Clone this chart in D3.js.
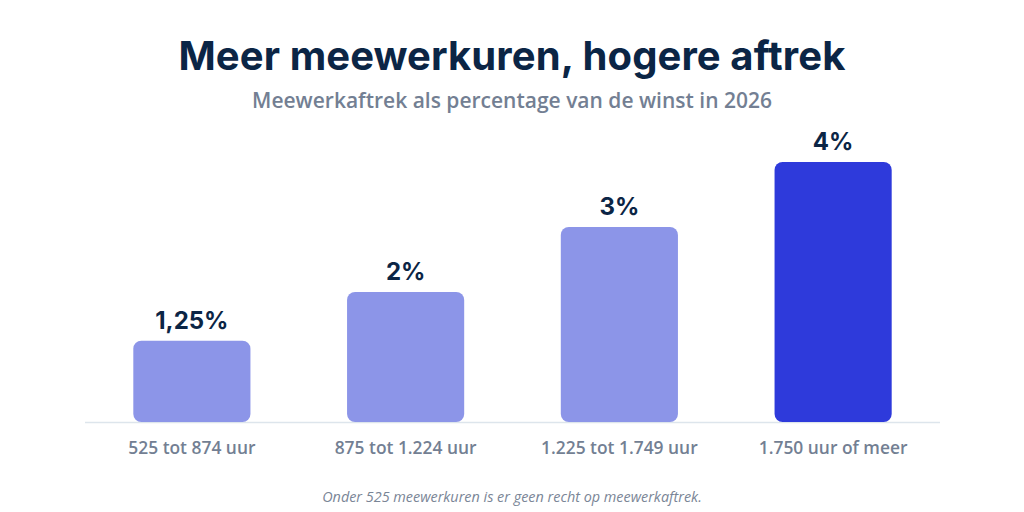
<!DOCTYPE html>
<html><head><meta charset="utf-8">
<script src="https://cdn.jsdelivr.net/npm/d3@7/dist/d3.min.js"></script>
<style>body{margin:0;background:#fff}svg{display:block}</style>
</head><body><svg id="c" width="1024" height="512"></svg>
<script>
const categories = ["525 tot 874 uur","875 tot 1.224 uur","1.225 tot 1.749 uur","1.750 uur of meer"];
const values = [1.25, 2, 3, 4];
const valueLabels = ["1,25%","2%","3%","4%"];
const highlight = [false,false,false,true];
const title = "Meer meewerkuren, hogere aftrek";
const subtitle = "Meewerkaftrek als percentage van de winst in 2026";
const footnote = "Onder 525 meewerkuren is er geen recht op meewerkaftrek.";

const svg = d3.select("#c");
const base = 422;
const x = d3.scaleBand().domain(categories).range([85, 940]).paddingInner(0.452).paddingOuter(0.226);
const y = d3.scaleLinear().domain([0, 4]).range([base, 162]);

svg.append("text").attr("x",512).attr("y",70).attr("text-anchor","middle")
  .attr("font-family","Inter, 'Noto Sans', sans-serif").attr("font-weight",700)
  .attr("font-size",40).attr("fill","#0b2545").attr("letter-spacing","0.1").text(title);
svg.append("text").attr("x",512).attr("y",108).attr("text-anchor","middle")
  .attr("font-family","'Open Sans', sans-serif").attr("font-weight",600)
  .attr("font-size",21).attr("fill","#737f93").text(subtitle);

svg.append("line").attr("x1",85).attr("x2",940).attr("y1",base+0.5).attr("y2",base+0.5)
  .attr("stroke","#dde5ec").attr("stroke-width",1.5);

const g = svg.selectAll("g.bar").data(categories).enter().append("g");
g.append("rect")
  .attr("x",(d)=>x(d)).attr("width",x.bandwidth())
  .attr("y",(d,i)=>y(values[i])).attr("height",(d,i)=>base - y(values[i]))
  .attr("rx",8).attr("ry",8)
  .attr("fill",(d,i)=>highlight[i] ? "#2e3adb" : "#8c95e8");
g.append("text")
  .attr("x",(d)=>x(d)+x.bandwidth()/2).attr("y",(d,i)=>y(values[i])-12)
  .attr("text-anchor","middle").attr("font-family","Inter, 'Noto Sans', sans-serif")
  .attr("font-weight",700).attr("font-size",24).attr("fill","#0b2545")
  .text((d,i)=>valueLabels[i]);
g.append("text")
  .attr("x",(d)=>x(d)+x.bandwidth()/2).attr("y",454)
  .attr("text-anchor","middle").attr("font-family","'Open Sans', sans-serif")
  .attr("font-weight",600).attr("font-size",17.4).attr("fill","#737f93").text(d=>d);

svg.append("text").attr("x",512).attr("y",502).attr("text-anchor","middle")
  .attr("font-family","'Open Sans', sans-serif").attr("font-style","italic")
  .attr("font-size",14.4).attr("fill","#7a8596").text(footnote);
</script></body></html>
